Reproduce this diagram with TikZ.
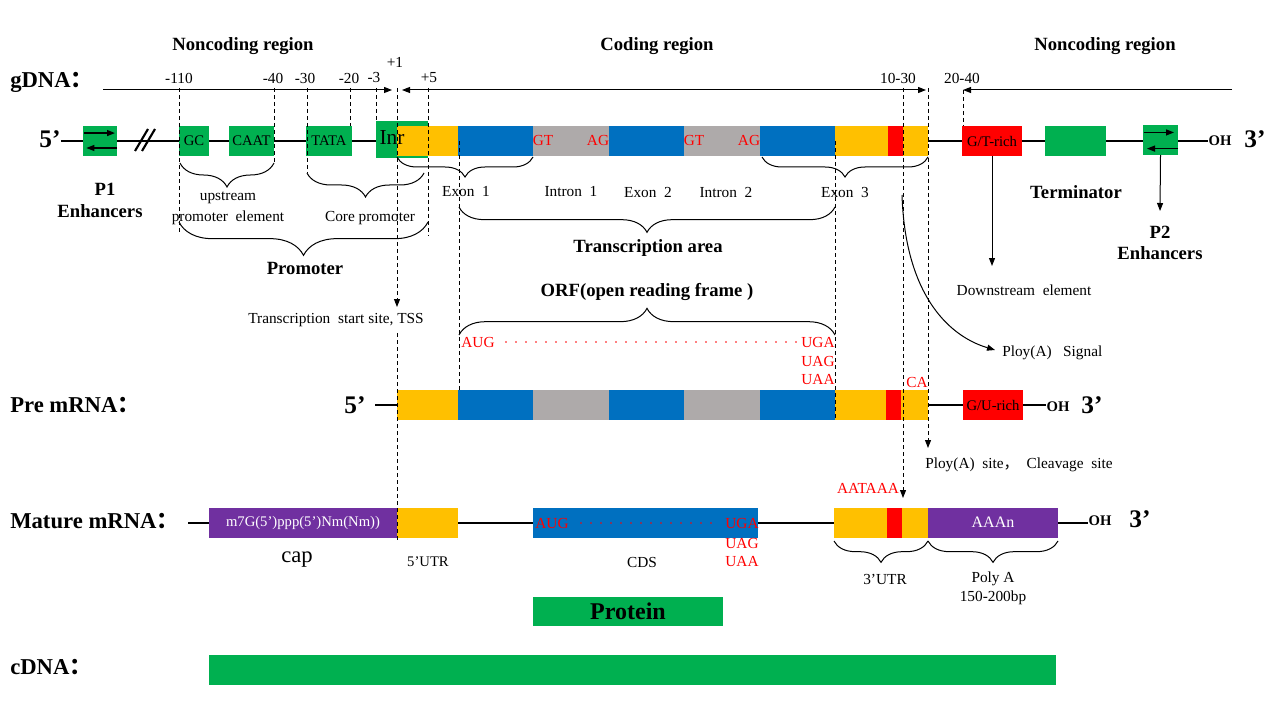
\documentclass[tikz,border=0pt]{standalone}
\usepackage{fontspec}
\setmainfont{Liberation Serif}
\newfontfamily\cjk{Noto Sans CJK SC}
\usetikzlibrary{arrows.meta,decorations.pathreplacing}
\definecolor{cgreen}{HTML}{00B050}
\definecolor{corange}{HTML}{FFC000}
\definecolor{cblue}{HTML}{0070C0}
\definecolor{cgray}{HTML}{AEAAAA}
\definecolor{cred}{HTML}{FF0000}
\definecolor{cpurple}{HTML}{7030A0}
\newcommand\fsz[1]{\fontsize{#1pt}{#1pt}\selectfont}
\newcommand\segm[6]{\node[seg, fill=#5, minimum width={(#3-#2)*0.75pt}] (#1) at (#2,#4) {#6};}
\begin{document}
\begin{tikzpicture}[x=0.75pt, y=-0.75pt,
 lbl/.style={inner sep=0pt, font=\fsz{11.5}},
 hd/.style={inner sep=0pt, font=\fsz{14}\bfseries},
 rowl/.style={inner sep=0pt, anchor=west, font=\fsz{17}\bfseries},
 big/.style={inner sep=0pt, font=\fsz{19}\bfseries},
 oh/.style={inner sep=0pt, font=\fsz{11}\bfseries},
 codon/.style={inner sep=0pt, text=cred, font=\fsz{11.5}},
 seg/.style={inner sep=0pt, outer sep=0pt, minimum height=22.5pt, anchor=west, font=\fsz{11}},
 dsh/.style={line width=0.75pt, dash pattern=on 3pt off 2.25pt},
 arw/.style={-{Triangle[length=6pt,width=4.5pt]}},
 dna/.style={line width=1.4pt},
 brc/.style={decorate, decoration={brace, amplitude=#1}, line width=0.75pt},
 brcm/.style={decorate, decoration={brace, amplitude=#1, mirror}, line width=0.75pt},
 dots/.style={cred, line width=1.3pt, line cap=round, dash pattern=on 0pt off 7.5pt}
]
\useasboundingbox (0,0) rectangle (1280,720);
\fill[white] (0,0) rectangle (1280,720);

% ---------- titles ----------
\node[hd] (t1) at (243,46) {Noncoding region};
\node[hd] (t2) at (657,46) {Coding region};
\node[hd] (t3) at (1105,46) {Noncoding region};

\node[rowl] (lg) at (10,82) {gDNA{\cjk ：}};
\node[rowl] (lp) at (10,405) {Pre mRNA{\cjk ：}};
\node[rowl] (lm) at (10,521) {Mature mRNA{\cjk ：}};
\node[rowl] (lc) at (10,667) {cDNA{\cjk ：}};

% ---------- position scale ----------
\node[lbl] (n110) at (179,78) {-110};
\node[lbl] (n40) at (273,78) {-40};
\node[lbl] (n30) at (305,78) {-30};
\node[lbl] (n20) at (349,78) {-20};
\node[lbl] (n3) at (374,78) {-3};
\node[lbl] (np1) at (395,62) {+1};
\node[lbl] (np5) at (429,78) {+5};
\node[lbl] (n1030) at (898,78) {10-30};
\node[lbl] (n2040) at (962,78) {20-40};

\coordinate (s1) at (103,90); \coordinate (s2) at (392,90);
\coordinate (s3) at (402,90); \coordinate (s4) at (926,90);
\coordinate (s5) at (1232,90); \coordinate (s6) at (963,90);
\draw[arw, line width=0.75pt] (s1) -- (s2);
\draw[{Triangle[length=6pt,width=4.5pt]}-{Triangle[length=6pt,width=4.5pt]}, line width=0.75pt] (s3) -- (s4);
\draw[arw, line width=0.75pt] (s5) -- (s6);

% ---------- gDNA ----------
\node[big] (g5) at (50,139) {5’};
\node[oh] (gOH) at (1220,141) {OH};
\node[big] (g3) at (1255,139) {3’};
\segm{p1}{83}{117}{141}{cgreen}{}
\draw[dna] (g5.east |- p1.center) -- (gOH.west |- p1.center);
\segm{p1}{83}{117}{141}{cgreen}{}
\draw[line width=1.6pt] (135,151) -- (148,129);
\draw[line width=1.6pt] (142,151) -- (155,129);
\draw[arw, line width=0.9pt] ([xshift=1pt,yshift=-5.3pt]p1.north west) -- ([xshift=-1.5pt,yshift=-5.3pt]p1.north east);
\draw[arw, line width=0.9pt] ([yshift=6pt]p1.south east) -- ([xshift=2.5pt,yshift=6pt]p1.south west);
\segm{gc}{179}{209}{141}{cgreen}{GC}
\segm{caat}{229}{274}{141}{cgreen}{CAAT}
\segm{tata}{306}{352}{141}{cgreen}{TATA}
\node[seg, fill=cgreen, minimum width={52*0.75pt}, minimum height=27.75pt] (inr) at (376,139.5) {};
\segm{o1}{397}{458}{141}{corange}{}
\segm{b1}{458}{533}{141}{cblue}{}
\segm{i1}{533}{609}{141}{cgray}{}
\segm{b2}{609}{684}{141}{cblue}{}
\segm{i2}{684}{760}{141}{cgray}{}
\segm{b3}{760}{835}{141}{cblue}{}
\segm{o2}{835}{888}{141}{corange}{}
\segm{r1}{888}{903}{141}{cred}{}
\segm{o3}{903}{928}{141}{corange}{}
\segm{gt}{962}{1022}{141}{cred}{G/T-rich}
\segm{term}{1045}{1106}{141.5}{cgreen}{}
\segm{p2}{1143}{1178}{140}{cgreen}{}
\draw[arw, line width=0.9pt] ([xshift=0.5pt,yshift=-5.6pt]p2.north west) -- ([xshift=-3pt,yshift=-5.6pt]p2.north east);
\draw[arw, line width=0.9pt] ([yshift=4.8pt]p2.south east) -- ([xshift=3pt,yshift=4.8pt]p2.south west);
\node[inner sep=0pt, font=\fsz{16}] (inrt) at (392,138) {Inr};
\node[codon] (gt1) at (543,141) {GT};
\node[codon] (ag1) at (598,141) {AG};
\node[codon] (gt2) at (694,141) {GT};
\node[codon] (ag2) at (749,141) {AG};

% ---------- gDNA annotations ----------
\draw[brcm=18pt] (180,163) -- (274,163);
\node[lbl] (up1) at (228,198) {upstream};
\node[lbl] (up2) at (228,218) {promoter~~element};
\draw[brcm=18pt] (307,173) -- (424,173);
\node[lbl] (core) at (370,218) {Core promoter};
\draw[brcm=15pt] (397,157) -- (533,157);
\draw[brcm=15pt] (762,157) -- (928,157);
\node[lbl] (ex1) at (466,192) {Exon~~1};
\node[lbl] (in1) at (571,192) {Intron~~1};
\node[lbl] (ex2) at (648,192) {Exon~~2};
\node[lbl] (in2) at (726,192) {Intron~~2};
\node[lbl] (ex3) at (845,192) {Exon~~3};
\draw[brcm=19pt] (459,207) -- (835,207);
\node[hd] (tra) at (648,248) {Transcription area};
\draw[brcm=25pt] (179,222) -- (428,222);
\node[hd] (prom) at (305,268) {Promoter};
\node[hd] (p1a) at (105,189) {P1};
\node[hd] (p1b) at (100,211) {Enhancers};
\node[hd] (termt) at (1076,192) {Terminator};
\node[hd] (p2a) at (1160,232) {P2};
\node[hd] (p2b) at (1160,253) {Enhancers};
\node[lbl] (dse) at (1024,290) {Downstream~~element};
\coordinate (dseTip) at (992,266);
\draw[arw, line width=0.75pt] (gt.south) -- (dseTip);
\coordinate (p2Tip) at (1160,211);
\draw[arw, line width=0.75pt] (p2.south) -- (p2Tip);
\node[lbl, anchor=west] (pas) at (1002,353) {Ploy(A)~~~Signal};
\coordinate (pasS) at (902,195);
\coordinate (pasTip) at (995,350);
\draw[arw, line width=0.75pt] (pasS) .. controls (905,290) and (945,335) .. (pasTip);

\node[hd] (orf) at (647,292) {ORF(open reading frame )};
\draw[brc=20pt] (459,335) -- (835,335);
\node[codon] (aug1) at (478,342) {AUG};
\draw[dots] (506,342) -- (797,342);
\node[codon] (uga1) at (818,342) {UGA};
\node[codon] (uag1) at (818,361) {UAG};
\node[codon] (uaa1) at (818,380) {UAA};
\node[lbl] (tss) at (336,320) {Transcription~~start site, TSS};

% ---------- Pre mRNA ----------
\node[big] (p5) at (355,405) {5’};
\node[oh] (pOH) at (1058,407) {OH};
\node[big] (p3) at (1092,405) {3’};
\coordinate (pL) at (375,405);
\draw[dna] (pL) -- (pL -| pOH.west);
\segm{q1}{397}{458}{405}{corange}{}
\segm{qb1}{458}{533}{405}{cblue}{}
\segm{qg1}{533}{609}{405}{cgray}{}
\segm{qb2}{609}{684}{405}{cblue}{}
\segm{qg2}{684}{760}{405}{cgray}{}
\segm{qb3}{760}{835}{405}{cblue}{}
\segm{qo2}{835}{886}{405}{corange}{}
\segm{qr}{886}{901}{405}{cred}{}
\segm{qo3}{901}{928}{405}{corange}{}
\segm{gu}{963}{1023}{405}{cred}{G/U-rich}
\node[codon] (ca) at (917,382) {CA};
\node[lbl, anchor=west] (pcs) at (925,465) {Ploy(A)~~site{\cjk ，}~~Cleavage~~site};

% ---------- Mature mRNA ----------
\node[oh] (mOH) at (1100,521) {OH};
\node[big] (m3) at (1140,519) {3’};
\coordinate (mL) at (188,523);
\draw[dna] (mL) -- (mL -| mOH.west);
\segm{cap}{209}{397}{522.5}{cpurple}{\textcolor{white}{m7G(5’)ppp(5’)Nm(Nm))}}
\segm{mo1}{397}{458}{522.5}{corange}{}
\segm{cds}{533}{758}{522.5}{cblue}{}
\segm{mo2}{834}{887}{522.5}{corange}{}
\segm{mr}{887}{902}{522.5}{cred}{}
\segm{mo3}{902}{928}{522.5}{corange}{}
\segm{pa}{928}{1058}{522.5}{cpurple}{\textcolor{white}{\fsz{12}AAAn}}
\node[codon] (aug2) at (552,523) {AUG};
\draw[dots] (581,523) -- (718,523);
\node[codon] (uga2) at (742,523) {UGA};
\node[codon] (uag2) at (742,543) {UAG};
\node[codon] (uaa2) at (742,562) {UAA};
\node[codon] (aataaa) at (868,488) {AATAAA};
\node[inner sep=0pt, font=\fsz{17}] (capt) at (297,560) {cap};
\node[inner sep=0pt, font=\fsz{11}] (utr5) at (428,562) {5'UTR};
\node[lbl] (cdst) at (642,562) {CDS};
\draw[brcm=16pt] (834,541) -- (928,541);
\draw[brcm=16pt] (928,541) -- (1058,541);
\node[lbl] (utr3) at (885,579) {3’UTR};
\node[lbl] (polya1) at (993,579) {Poly A};
\node[lbl] (polya2) at (993,598) {150-200bp};

% ---------- Protein & cDNA ----------
\node[seg, fill=cgreen, minimum width={190*0.75pt}, minimum height=21.75pt, font=\fsz{18}\bfseries] (prot) at (533,611.5) {Protein};
\node[seg, fill=cgreen, minimum width={847*0.75pt}] (cdna) at (209,670) {};

% ---------- dashed guide lines ----------
\draw[dsh] (179,88) -- (179,232);
\draw[dsh] (274,88) -- (274,163);
\draw[dsh] (307,88) -- (307,173);
\draw[dsh] (350,88) -- (350,126);
\draw[dsh] (376,88) -- (376,121);
\draw[dsh] (428,88) -- (428,236);
\coordinate (tssTop) at (397,88); \coordinate (tssTip) at (397,307);
\draw[dsh, arw] (tssTop) -- (tssTip);
\draw[dsh] (397,333) -- (397,540);
\draw[dsh] (459,141) -- (459,390);
\draw[dsh] (835,141) -- (835,420);
\coordinate (c903) at (903,88); \coordinate (c903t) at (903,498);
\draw[dsh, arw] (c903) -- (c903t);
\coordinate (c928) at (928,88); \coordinate (c928t) at (928,448);
\draw[dsh, arw] (c928) -- (c928t);
\draw[dsh] (963,90) -- (963,126);
\end{tikzpicture}
\end{document}
